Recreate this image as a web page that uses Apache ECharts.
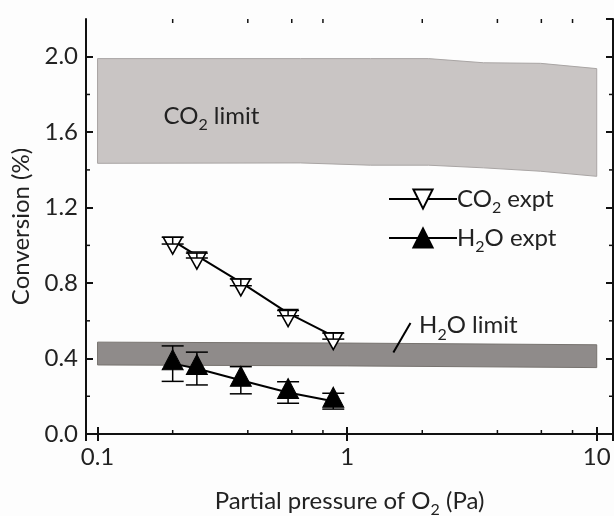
<!DOCTYPE html>
<html>
<head>
<meta charset="utf-8">
<script src="https://cdn.jsdelivr.net/npm/echarts@6/dist/echarts.min.js"></script>
<style>
  html, body { margin: 0; padding: 0; background: #fdfdfd; }
  #chart { width: 614px; height: 516px; }
</style>
</head>
<body>
<div id="chart"></div>
<script>
// experiment points (x = partial pressure of O2, Pa)
var pressure = [0.2, 0.25, 0.375, 0.58, 0.88];
var co2Conv = [1.025, 0.946, 0.804, 0.641, 0.519];
var co2Err = [0.018, 0.013, 0.018, 0.014, 0.016];
var h2oConv = [0.373, 0.347, 0.285, 0.22, 0.174];
var h2oErr = [0.094, 0.087, 0.072, 0.057, 0.042];

// limit bands
var co2LimX = [0.1, 0.65, 1.24, 2.12, 3.52, 5.95, 10];
var co2LimHigh = [1.99, 1.99, 1.99, 1.99, 1.968, 1.965, 1.937];
var co2LimLow = [1.435, 1.437, 1.425, 1.425, 1.411, 1.393, 1.366];
var h2oLimX = [0.1, 1, 10];
var h2oLimHigh = [0.487, 0.482, 0.473];
var h2oLimLow = [0.366, 0.361, 0.352];

// ticks
var xMinorTicks = [0.2, 0.4, 0.6, 0.8, 2, 4, 6, 8];
var yMinorTicks = [0.2, 0.6, 1.0, 1.4, 1.8];
var xMin = 0.0899, xMax = 11.62, yMin = 0, yMax = 2.2;

var FONT = "Lato, 'Open Sans', sans-serif";
var TXT = "#222";
var FS = 24;

var rich = {
  a: { fontSize: FS, fontFamily: FONT, color: TXT, lineHeight: 34 },
  s: { fontSize: 16, fontFamily: FONT, color: TXT, lineHeight: 16, verticalAlign: "bottom" }
};

var chart = echarts.init(document.getElementById("chart"));

function bandSeries(name, xs, lo, hi, fill, stroke) {
  return {
    name: name,
    type: "custom",
    coordinateSystem: "cartesian2d",
    silent: true,
    z: 1,
    data: xs.map(function (x, i) { return [x, lo[i], hi[i]]; }),
    encode: { x: 0, y: [1, 2] },
    renderItem: function (params, api) {
      if (params.dataIndex !== 0) return;
      var pts = [];
      for (var i = 0; i < xs.length; i++) pts.push(api.coord([xs[i], hi[i]]));
      for (var j = xs.length - 1; j >= 0; j--) pts.push(api.coord([xs[j], lo[j]]));
      return {
        type: "polygon",
        shape: { points: pts },
        style: { fill: fill, stroke: stroke, lineWidth: 1 }
      };
    }
  };
}

function errorSeries(name, ys, errs) {
  return {
    name: name,
    type: "custom",
    coordinateSystem: "cartesian2d",
    silent: true,
    z: 10,
    data: pressure.map(function (x, i) { return [x, ys[i] - errs[i], ys[i] + errs[i]]; }),
    encode: { x: 0, y: [1, 2] },
    renderItem: function (params, api) {
      var lo = api.coord([api.value(0), api.value(1)]);
      var hi = api.coord([api.value(0), api.value(2)]);
      var hw = 11;
      var st = { stroke: "#000", lineWidth: 1.5 };
      return {
        type: "group",
        children: [
          { type: "line", shape: { x1: lo[0], y1: lo[1], x2: hi[0], y2: hi[1] }, style: st },
          { type: "line", shape: { x1: lo[0] - hw, y1: lo[1], x2: lo[0] + hw, y2: lo[1] }, style: st },
          { type: "line", shape: { x1: hi[0] - hw, y1: hi[1], x2: hi[0] + hw, y2: hi[1] }, style: st }
        ]
      };
    }
  };
}

var option = {
  backgroundColor: "#fdfdfd",
  animation: false,
  grid: { left: 86, right: 1, top: 19, bottom: 82, outerBoundsMode: "none", containLabel: false },
  legend: {
    data: ["CO2 expt", "H2O expt"],
    orient: "vertical",
    left: 383,
    top: 182,
    itemWidth: 68,
    itemHeight: 24,
    itemGap: 10,
    lineStyle: { color: "#000", width: 2 },
    formatter: function (name) {
      return name === "CO2 expt" ? "{a|CO}{s|2}{a| expt}" : "{a|H}{s|2}{a|O expt}";
    },
    textStyle: { rich: rich, padding: [0, 0, 0, -5] }
  },
  xAxis: [
    {
      type: "log",
      logBase: 10,
      min: xMin,
      max: xMax,
      name: "{a|Partial pressure of O}{s|2}{a| (Pa)}",
      nameLocation: "middle",
      nameGap: 50,
      nameTextStyle: { rich: rich },
      axisLine: { lineStyle: { color: "#111", width: 2 } },
      axisTick: { inside: true, length: 7, lineStyle: { color: "#111", width: 2 } },
      axisLabel: {
        fontSize: FS, fontFamily: FONT, color: TXT, margin: 11,
        showMinLabel: false, showMaxLabel: false
      },
      splitLine: { show: false }
    },
    {
      type: "log",
      logBase: 10,
      position: "top",
      min: xMin,
      max: xMax,
      axisLine: { lineStyle: { color: "#111", width: 2 } },
      axisTick: { inside: true, length: 7, lineStyle: { color: "#111", width: 2 } },
      axisLabel: { show: false },
      splitLine: { show: false }
    }
  ],
  yAxis: [
    {
      type: "value",
      min: yMin,
      max: yMax,
      interval: 0.4,
      name: "Conversion (%)",
      nameLocation: "middle",
      nameGap: 51,
      nameTextStyle: { fontSize: FS, fontFamily: FONT, color: TXT },
      axisLine: { show: true, lineStyle: { color: "#111", width: 2 } },
      axisTick: { inside: true, length: 7, lineStyle: { color: "#111", width: 2 } },
      axisLabel: {
        fontSize: FS, fontFamily: FONT, color: TXT, margin: 8,
        showMaxLabel: false,
        formatter: function (v) { return v.toFixed(1); }
      },
      splitLine: { show: false }
    },
    {
      type: "value",
      position: "right",
      min: yMin,
      max: yMax,
      interval: 0.4,
      axisLine: { show: true, lineStyle: { color: "#111", width: 2 } },
      axisTick: { inside: true, length: 7, lineStyle: { color: "#111", width: 2 } },
      axisLabel: { show: false },
      splitLine: { show: false }
    }
  ],
  series: [
    (function () {
      var s = bandSeries("CO2 limit", co2LimX, co2LimLow, co2LimHigh, "#c9c5c4", "#a9a5a4");
      s.markPoint = {
        silent: true,
        symbol: "circle",
        symbolSize: 1,
        itemStyle: { color: "transparent" },
        label: {
          show: true,
          position: "inside",
          formatter: "{a|CO}{s|2}{a| limit}",
          rich: rich
        },
        data: [{ coord: [0.286, 1.685] }]
      };
      return s;
    })(),
    (function () {
      var s = bandSeries("H2O limit", h2oLimX, h2oLimLow, h2oLimHigh, "#8f8b8a", "#77736f");
      s.markPoint = {
        silent: true,
        symbol: "circle",
        symbolSize: 1,
        itemStyle: { color: "transparent" },
        label: {
          show: true,
          position: "inside",
          formatter: "{a|H}{s|2}{a|O limit}",
          rich: rich
        },
        data: [{ coord: [3.06, 0.575] }]
      };
      s.markLine = {
        silent: true,
        z: 6,
        symbol: ["none", "none"],
        label: { show: false },
        lineStyle: { color: "#000", width: 2, type: "solid" },
        data: [[{ coord: [1.532, 0.432] }, { coord: [1.794, 0.588] }]]
      };
      return s;
    })(),
    {
      name: "CO2 expt",
      type: "line",
      data: pressure.map(function (x, i) { return [x, co2Conv[i]]; }),
      symbol: "path://M0,0 L20,0 L10,18 Z",
      symbolSize: [19, 17],
      symbolOffset: [0, 5],
      showAllSymbol: true,
      z: 5,
      lineStyle: { color: "#000", width: 2 },
      itemStyle: { color: "#ffffff", borderColor: "#000", borderWidth: 1.5 }
    },
    {
      name: "H2O expt",
      type: "line",
      data: pressure.map(function (x, i) { return [x, h2oConv[i]]; }),
      symbol: "triangle",
      symbolSize: [21, 20],
      symbolOffset: [0, -4],
      showAllSymbol: true,
      z: 5,
      lineStyle: { color: "#000", width: 2 },
      itemStyle: { color: "#000", borderColor: "#000", borderWidth: 1 }
    },
    errorSeries("CO2 err", co2Conv, co2Err),
    errorSeries("H2O err", h2oConv, h2oErr),
    {
      name: "minor ticks",
      type: "custom",
      coordinateSystem: "cartesian2d",
      silent: true,
      z: 20,
      data: [[1, 1]],
      renderItem: function (params, api) {
        var st = { stroke: "#111", lineWidth: 1.5 };
        var kids = [];
        xMinorTicks.forEach(function (v) {
          var b = api.coord([v, yMin]);
          var t = api.coord([v, yMax]);
          kids.push({ type: "line", shape: { x1: b[0], y1: b[1], x2: b[0], y2: b[1] - 4 }, style: st });
          kids.push({ type: "line", shape: { x1: t[0], y1: t[1], x2: t[0], y2: t[1] + 4 }, style: st });
        });
        yMinorTicks.forEach(function (v) {
          var l = api.coord([xMin, v]);
          var r = api.coord([xMax, v]);
          kids.push({ type: "line", shape: { x1: l[0], y1: l[1], x2: l[0] + 4, y2: l[1] }, style: st });
          kids.push({ type: "line", shape: { x1: r[0], y1: r[1], x2: r[0] - 4, y2: r[1] }, style: st });
        });
        return { type: "group", children: kids };
      }
    }
  ]
};

chart.setOption(option);
</script>
</body>
</html>
